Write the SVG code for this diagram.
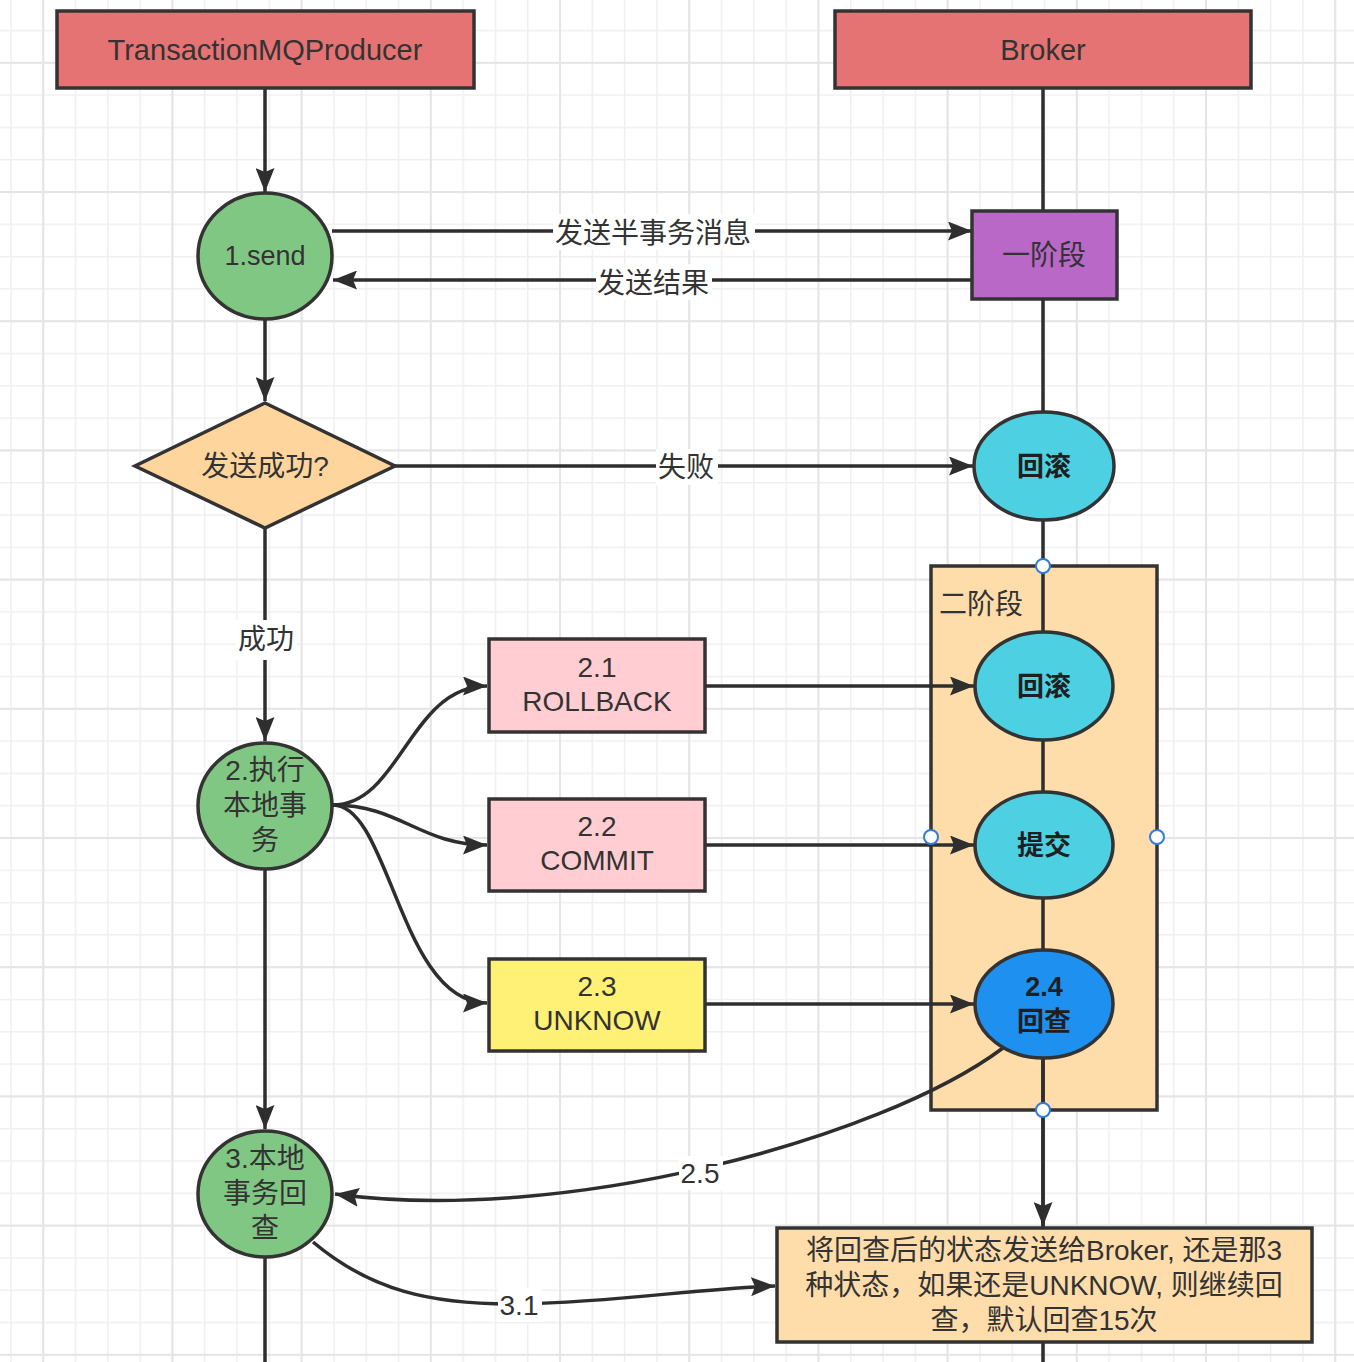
<svg xmlns="http://www.w3.org/2000/svg" width="1354" height="1362" viewBox="0 0 1354 1362">
<defs>
<style>
.t{font-family:"Liberation Sans","Noto Sans CJK SC",sans-serif;font-size:28px;fill:#333;text-anchor:middle}
.b{font-weight:bold;fill:#1f1f1f;font-size:27px}
.s{stroke:#333;stroke-width:3.5}
.e{fill:none;stroke:#2e2e2e;stroke-width:3.5}
.a{marker-end:url(#ah)}
.lb{fill:#fff}
.h{fill:#fff;stroke:#2f7be0;stroke-width:2}
</style>
<pattern id="gmin" patternUnits="userSpaceOnUse" x="10.15" y="29.75" width="32.3" height="32.3">
<path d="M0.75,0V32.3M0,0.75H32.3" stroke="#efefef" stroke-width="1.5" fill="none"/>
</pattern>
<pattern id="gmaj" patternUnits="userSpaceOnUse" x="42.2" y="61.8" width="129.2" height="129.2">
<path d="M1,0V129.2M0,1H129.2" stroke="#e5e5e5" stroke-width="2" fill="none"/>
</pattern>
<marker id="ah" viewBox="0 0 24 19" refX="24" refY="9.5" markerWidth="24" markerHeight="19" markerUnits="userSpaceOnUse" orient="auto">
<path d="M0,0L24,9.5L0,19L4,9.5z" fill="#2e2e2e"/>
</marker>
</defs>
<rect width="1354" height="1362" fill="#fff"/>
<rect width="1354" height="1362" fill="url(#gmin)"/>
<rect width="1354" height="1362" fill="url(#gmaj)"/>

<g id="stage2">
<rect x="931" y="566" width="226" height="544" fill="#FFDDAB" class="s"/>
<text class="t" x="939" y="614" style="text-anchor:start">二阶段</text>
</g>

<g id="connectors">
<path class="e a" d="M265,88V192"/>
<path class="e a" d="M265,319V401"/>
<path class="e a" d="M332,231H972"/>
<path class="e a" d="M972,280H333"/>
<path class="e a" d="M395,466H973"/>
<path class="e a" d="M265,528V741"/>
<path class="e a" d="M265,868V1129"/>
<path class="e" d="M265,1257V1362"/>
<path class="e" d="M1043,88V1340"/>
<path class="e a" d="M1043,1058V1226"/>
<path class="e" d="M1043,1342V1362"/>
<path class="e a" d="M333,805C400,805 410,686 487,686"/>
<path class="e a" d="M333,805C400,805 420,845 487,845"/>
<path class="e a" d="M333,805C390,805 400,1003 487,1003"/>
<path class="e a" d="M705,686H974"/>
<path class="e a" d="M705,845H974"/>
<path class="e a" d="M705,1004H974"/>
<path class="e a" d="M1003,1048C880,1140 560,1225 335,1194"/>
<path class="e a" d="M313,1242C370,1290 430,1305 520,1304C620,1302 700,1288 775,1286"/>
<rect class="lb" x="553" y="214" width="202" height="36"/>
<text class="t" x="653" y="243">发送半事务消息</text>
<rect class="lb" x="596" y="264" width="116" height="36"/>
<text class="t" x="653" y="293">发送结果</text>
<rect class="lb" x="656" y="449" width="62" height="36"/>
<text class="t" x="686" y="477">失败</text>
<rect class="lb" x="236" y="620" width="60" height="40"/>
<text class="t" x="266" y="649">成功</text>
<rect class="lb" x="679" y="1156" width="44" height="34"/>
<text class="t" x="700" y="1183">2.5</text>
<rect class="lb" x="498" y="1288" width="44" height="34"/>
<text class="t" x="519" y="1315">3.1</text>
</g>

<g id="producer">
<rect x="57" y="11" width="417" height="77" fill="#E57373" class="s"/>
<text class="t" x="265" y="60" style="font-size:29px">TransactionMQProducer</text>
</g>
<g id="broker">
<rect x="835" y="11" width="416" height="77" fill="#E57373" class="s"/>
<text class="t" x="1043" y="60" style="font-size:29px">Broker</text>
</g>
<g id="send">
<ellipse cx="265" cy="256" rx="67" ry="63" fill="#81C784" class="s"/>
<text class="t" x="265" y="265" style="font-size:27px">1.send</text>
</g>
<g id="phase1">
<rect x="972" y="211" width="145" height="88" fill="#BA68C8" class="s"/>
<text class="t" x="1044" y="265">一阶段</text>
</g>
<g id="decision">
<polygon points="265,403 395,466 265,528 135,466" fill="#FFD59E" class="s"/>
<text class="t" x="265" y="476">发送成功?</text>
</g>
<g id="rollback1">
<ellipse cx="1044" cy="466" rx="70" ry="54" fill="#4DD0E1" class="s"/>
<text class="t b" x="1044" y="476">回滚</text>
</g>
<g id="rollback2">
<ellipse cx="1044" cy="686" rx="69" ry="54" fill="#4DD0E1" class="s"/>
<text class="t b" x="1044" y="696">回滚</text>
</g>
<g id="commit2">
<ellipse cx="1044" cy="845" rx="69" ry="53" fill="#4DD0E1" class="s"/>
<text class="t b" x="1044" y="855">提交</text>
</g>
<g id="check24">
<ellipse cx="1044" cy="1004" rx="69" ry="54" fill="#1E90F0" class="s"/>
<text class="t b" x="1044" y="996">2.4</text>
<text class="t b" x="1044" y="1031">回查</text>
</g>
<g id="exec">
<ellipse cx="265" cy="806" rx="67" ry="63" fill="#81C784" class="s"/>
<text class="t" x="265" y="780">2.执行</text>
<text class="t" x="265" y="815">本地事</text>
<text class="t" x="265" y="850">务</text>
</g>
<g id="local-check">
<ellipse cx="265" cy="1194" rx="67" ry="63" fill="#81C784" class="s"/>
<text class="t" x="265" y="1168">3.本地</text>
<text class="t" x="265" y="1203">事务回</text>
<text class="t" x="265" y="1238">查</text>
</g>
<g id="r21">
<rect x="489" y="639" width="216" height="93" fill="#FFCDD2" class="s"/>
<text class="t" x="597" y="677">2.1</text>
<text class="t" x="597" y="711">ROLLBACK</text>
</g>
<g id="r22">
<rect x="489" y="799" width="216" height="92" fill="#FFCDD2" class="s"/>
<text class="t" x="597" y="836">2.2</text>
<text class="t" x="597" y="870">COMMIT</text>
</g>
<g id="r23">
<rect x="489" y="959" width="216" height="92" fill="#FFF176" class="s"/>
<text class="t" x="597" y="996">2.3</text>
<text class="t" x="597" y="1030">UNKNOW</text>
</g>
<g id="resend">
<rect x="777" y="1228" width="535" height="114" fill="#FFDDAB" class="s"/>
<text class="t" x="1044" y="1260">将回查后的状态发送给Broker, 还是那3</text>
<text class="t" x="1044" y="1295">种状态，如果还是UNKNOW, 则继续回</text>
<text class="t" x="1044" y="1330">查，默认回查15次</text>
</g>
<g id="handles">
<circle class="h" cx="1043" cy="566" r="7"/>
<circle class="h" cx="931" cy="837" r="7"/>
<circle class="h" cx="1157" cy="837" r="7"/>
<circle class="h" cx="1043" cy="1110" r="7"/>
</g>
</svg>
